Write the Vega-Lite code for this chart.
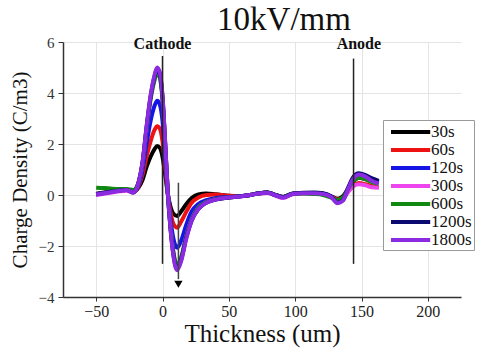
{
"$schema": "https://vega.github.io/schema/vega-lite/v6.json",
"width": 398, "height": 255,
"autosize": {"type": "none"},
"padding": {"left": 63, "top": 42, "right": 16, "bottom": 52},
"background": "white",
"config": {"view": {"stroke": null}, "font": "Liberation Serif"},
"title": {"text": "10kV/mm", "fontSize": 33, "font": "Liberation Serif", "fontWeight": "normal", "color": "#111", "anchor": "middle", "dx": 22, "offset": 0, "dy": 2},
"datasets": {
"curves": [
{"s":"30s","x":-50,"y":0.05},{"s":"30s","x":-44,"y":0.1},{"s":"30s","x":-38,"y":0.15},{"s":"30s","x":-32,"y":0.2},{"s":"30s","x":-27,"y":0.22},{"s":"30s","x":-22,"y":0.12},{"s":"30s","x":-18,"y":0.3},{"s":"30s","x":-15,"y":0.6},{"s":"30s","x":-12,"y":1.1},{"s":"30s","x":-9,"y":1.5},{"s":"30s","x":-6,"y":1.8},{"s":"30s","x":-4,"y":1.92},{"s":"30s","x":-2,"y":1.85},{"s":"30s","x":0,"y":1.5},{"s":"30s","x":2,"y":0.8},{"s":"30s","x":4,"y":0.05},{"s":"30s","x":6,"y":-0.45},{"s":"30s","x":8,"y":-0.72},{"s":"30s","x":11,"y":-0.82},{"s":"30s","x":14,"y":-0.65},{"s":"30s","x":18,"y":-0.35},{"s":"30s","x":22,"y":-0.12},{"s":"30s","x":27,"y":0.02},{"s":"30s","x":33,"y":0.06},{"s":"30s","x":40,"y":0.03},{"s":"30s","x":50,"y":-0.03},{"s":"30s","x":58,"y":-0.05},{"s":"30s","x":66,"y":0.0},{"s":"30s","x":73,"y":0.07},{"s":"30s","x":79,"y":0.1},{"s":"30s","x":85,"y":0.0},{"s":"30s","x":91,"y":-0.08},{"s":"30s","x":98,"y":0.05},{"s":"30s","x":106,"y":0.08},{"s":"30s","x":114,"y":0.08},{"s":"30s","x":121,"y":0.05},{"s":"30s","x":127,"y":-0.05},{"s":"30s","x":132,"y":-0.15},{"s":"30s","x":136,"y":-0.05},{"s":"30s","x":140,"y":0.25},{"s":"30s","x":144,"y":0.55},{"s":"30s","x":148,"y":0.68},{"s":"30s","x":153,"y":0.62},{"s":"30s","x":158,"y":0.55},{"s":"30s","x":163,"y":0.5},
{"s":"60s","x":-50,"y":0.03},{"s":"60s","x":-44,"y":0.08},{"s":"60s","x":-38,"y":0.14},{"s":"60s","x":-32,"y":0.18},{"s":"60s","x":-27,"y":0.2},{"s":"60s","x":-22,"y":0.12},{"s":"60s","x":-18,"y":0.35},{"s":"60s","x":-15,"y":0.8},{"s":"60s","x":-12,"y":1.5},{"s":"60s","x":-9,"y":2.1},{"s":"60s","x":-6,"y":2.55},{"s":"60s","x":-4,"y":2.7},{"s":"60s","x":-2,"y":2.6},{"s":"60s","x":0,"y":2.1},{"s":"60s","x":2,"y":1.1},{"s":"60s","x":4,"y":0.05},{"s":"60s","x":6,"y":-0.65},{"s":"60s","x":8,"y":-1.1},{"s":"60s","x":11,"y":-1.28},{"s":"60s","x":14,"y":-1.05},{"s":"60s","x":18,"y":-0.65},{"s":"60s","x":22,"y":-0.3},{"s":"60s","x":27,"y":-0.1},{"s":"60s","x":33,"y":0.0},{"s":"60s","x":40,"y":0.02},{"s":"60s","x":50,"y":-0.03},{"s":"60s","x":58,"y":-0.05},{"s":"60s","x":66,"y":0.0},{"s":"60s","x":73,"y":0.07},{"s":"60s","x":79,"y":0.1},{"s":"60s","x":85,"y":0.0},{"s":"60s","x":91,"y":-0.08},{"s":"60s","x":98,"y":0.05},{"s":"60s","x":106,"y":0.08},{"s":"60s","x":114,"y":0.08},{"s":"60s","x":121,"y":0.05},{"s":"60s","x":127,"y":-0.05},{"s":"60s","x":132,"y":-0.18},{"s":"60s","x":136,"y":-0.1},{"s":"60s","x":140,"y":0.15},{"s":"60s","x":144,"y":0.38},{"s":"60s","x":148,"y":0.47},{"s":"60s","x":153,"y":0.42},{"s":"60s","x":158,"y":0.35},{"s":"60s","x":163,"y":0.3},
{"s":"120s","x":-50,"y":0.03},{"s":"120s","x":-44,"y":0.08},{"s":"120s","x":-38,"y":0.14},{"s":"120s","x":-32,"y":0.18},{"s":"120s","x":-27,"y":0.2},{"s":"120s","x":-22,"y":0.12},{"s":"120s","x":-18,"y":0.4},{"s":"120s","x":-15,"y":1.0},{"s":"120s","x":-12,"y":2.0},{"s":"120s","x":-9,"y":2.9},{"s":"120s","x":-6,"y":3.5},{"s":"120s","x":-4,"y":3.7},{"s":"120s","x":-2,"y":3.55},{"s":"120s","x":0,"y":2.9},{"s":"120s","x":2,"y":1.5},{"s":"120s","x":4,"y":0.05},{"s":"120s","x":6,"y":-0.95},{"s":"120s","x":8,"y":-1.65},{"s":"120s","x":11,"y":-2.07},{"s":"120s","x":14,"y":-1.8},{"s":"120s","x":18,"y":-1.15},{"s":"120s","x":22,"y":-0.65},{"s":"120s","x":27,"y":-0.35},{"s":"120s","x":33,"y":-0.2},{"s":"120s","x":40,"y":-0.12},{"s":"120s","x":50,"y":-0.08},{"s":"120s","x":58,"y":-0.05},{"s":"120s","x":66,"y":0.0},{"s":"120s","x":73,"y":0.07},{"s":"120s","x":79,"y":0.1},{"s":"120s","x":85,"y":0.0},{"s":"120s","x":91,"y":-0.08},{"s":"120s","x":98,"y":0.05},{"s":"120s","x":106,"y":0.08},{"s":"120s","x":114,"y":0.08},{"s":"120s","x":121,"y":0.05},{"s":"120s","x":127,"y":-0.05},{"s":"120s","x":132,"y":-0.28},{"s":"120s","x":136,"y":-0.2},{"s":"120s","x":140,"y":0.25},{"s":"120s","x":144,"y":0.65},{"s":"120s","x":148,"y":0.78},{"s":"120s","x":153,"y":0.7},{"s":"120s","x":158,"y":0.58},{"s":"120s","x":163,"y":0.5},
{"s":"300s","x":-50,"y":0.0},{"s":"300s","x":-44,"y":0.05},{"s":"300s","x":-38,"y":0.1},{"s":"300s","x":-32,"y":0.15},{"s":"300s","x":-27,"y":0.17},{"s":"300s","x":-22,"y":0.1},{"s":"300s","x":-18,"y":0.48},{"s":"300s","x":-15,"y":1.25},{"s":"300s","x":-12,"y":2.6},{"s":"300s","x":-9,"y":3.8},{"s":"300s","x":-6,"y":4.55},{"s":"300s","x":-4,"y":4.85},{"s":"300s","x":-2,"y":4.65},{"s":"300s","x":0,"y":3.8},{"s":"300s","x":2,"y":2.0},{"s":"300s","x":4,"y":0.1},{"s":"300s","x":6,"y":-1.25},{"s":"300s","x":8,"y":-2.2},{"s":"300s","x":11,"y":-2.8},{"s":"300s","x":14,"y":-2.5},{"s":"300s","x":18,"y":-1.6},{"s":"300s","x":22,"y":-0.95},{"s":"300s","x":27,"y":-0.5},{"s":"300s","x":33,"y":-0.28},{"s":"300s","x":40,"y":-0.17},{"s":"300s","x":50,"y":-0.1},{"s":"300s","x":58,"y":-0.06},{"s":"300s","x":66,"y":0.0},{"s":"300s","x":73,"y":0.06},{"s":"300s","x":79,"y":0.08},{"s":"300s","x":85,"y":-0.02},{"s":"300s","x":91,"y":-0.12},{"s":"300s","x":98,"y":0.03},{"s":"300s","x":106,"y":0.06},{"s":"300s","x":114,"y":0.06},{"s":"300s","x":121,"y":0.03},{"s":"300s","x":127,"y":-0.08},{"s":"300s","x":132,"y":-0.25},{"s":"300s","x":136,"y":-0.15},{"s":"300s","x":140,"y":0.12},{"s":"300s","x":144,"y":0.35},{"s":"300s","x":148,"y":0.42},{"s":"300s","x":153,"y":0.38},{"s":"300s","x":158,"y":0.3},{"s":"300s","x":163,"y":0.28},
{"s":"600s","x":-50,"y":0.28},{"s":"600s","x":-44,"y":0.27},{"s":"600s","x":-38,"y":0.25},{"s":"600s","x":-32,"y":0.24},{"s":"600s","x":-27,"y":0.24},{"s":"600s","x":-22,"y":0.2},{"s":"600s","x":-18,"y":0.5},{"s":"600s","x":-15,"y":1.25},{"s":"600s","x":-12,"y":2.6},{"s":"600s","x":-9,"y":3.75},{"s":"600s","x":-6,"y":4.5},{"s":"600s","x":-4,"y":4.8},{"s":"600s","x":-2,"y":4.6},{"s":"600s","x":0,"y":3.75},{"s":"600s","x":2,"y":2.0},{"s":"600s","x":4,"y":0.1},{"s":"600s","x":6,"y":-1.2},{"s":"600s","x":8,"y":-2.15},{"s":"600s","x":11,"y":-2.75},{"s":"600s","x":14,"y":-2.45},{"s":"600s","x":18,"y":-1.6},{"s":"600s","x":22,"y":-0.95},{"s":"600s","x":27,"y":-0.5},{"s":"600s","x":33,"y":-0.28},{"s":"600s","x":40,"y":-0.16},{"s":"600s","x":50,"y":-0.1},{"s":"600s","x":58,"y":-0.05},{"s":"600s","x":66,"y":0.0},{"s":"600s","x":73,"y":0.07},{"s":"600s","x":79,"y":0.1},{"s":"600s","x":85,"y":0.0},{"s":"600s","x":91,"y":-0.08},{"s":"600s","x":98,"y":0.05},{"s":"600s","x":106,"y":0.06},{"s":"600s","x":114,"y":0.04},{"s":"600s","x":121,"y":0.0},{"s":"600s","x":127,"y":-0.1},{"s":"600s","x":132,"y":-0.2},{"s":"600s","x":136,"y":-0.1},{"s":"600s","x":140,"y":0.25},{"s":"600s","x":144,"y":0.55},{"s":"600s","x":148,"y":0.68},{"s":"600s","x":153,"y":0.62},{"s":"600s","x":158,"y":0.5},{"s":"600s","x":163,"y":0.45},
{"s":"1200s","x":-50,"y":0.03},{"s":"1200s","x":-44,"y":0.08},{"s":"1200s","x":-38,"y":0.14},{"s":"1200s","x":-32,"y":0.18},{"s":"1200s","x":-27,"y":0.2},{"s":"1200s","x":-22,"y":0.1},{"s":"1200s","x":-18,"y":0.5},{"s":"1200s","x":-15,"y":1.3},{"s":"1200s","x":-12,"y":2.65},{"s":"1200s","x":-9,"y":3.85},{"s":"1200s","x":-6,"y":4.65},{"s":"1200s","x":-4,"y":4.95},{"s":"1200s","x":-2,"y":4.75},{"s":"1200s","x":0,"y":3.85},{"s":"1200s","x":2,"y":2.05},{"s":"1200s","x":4,"y":0.1},{"s":"1200s","x":6,"y":-1.3},{"s":"1200s","x":8,"y":-2.25},{"s":"1200s","x":11,"y":-2.9},{"s":"1200s","x":14,"y":-2.55},{"s":"1200s","x":18,"y":-1.65},{"s":"1200s","x":22,"y":-1.0},{"s":"1200s","x":27,"y":-0.55},{"s":"1200s","x":33,"y":-0.3},{"s":"1200s","x":40,"y":-0.18},{"s":"1200s","x":50,"y":-0.1},{"s":"1200s","x":58,"y":-0.05},{"s":"1200s","x":66,"y":0.0},{"s":"1200s","x":73,"y":0.07},{"s":"1200s","x":79,"y":0.1},{"s":"1200s","x":85,"y":0.0},{"s":"1200s","x":91,"y":-0.08},{"s":"1200s","x":98,"y":0.05},{"s":"1200s","x":106,"y":0.09},{"s":"1200s","x":114,"y":0.1},{"s":"1200s","x":121,"y":0.07},{"s":"1200s","x":127,"y":-0.05},{"s":"1200s","x":132,"y":-0.3},{"s":"1200s","x":136,"y":-0.2},{"s":"1200s","x":140,"y":0.3},{"s":"1200s","x":144,"y":0.72},{"s":"1200s","x":148,"y":0.85},{"s":"1200s","x":153,"y":0.78},{"s":"1200s","x":158,"y":0.65},{"s":"1200s","x":163,"y":0.55},
{"s":"1800s","x":-50,"y":0.02},{"s":"1800s","x":-44,"y":0.07},{"s":"1800s","x":-38,"y":0.12},{"s":"1800s","x":-32,"y":0.17},{"s":"1800s","x":-27,"y":0.2},{"s":"1800s","x":-22,"y":0.1},{"s":"1800s","x":-18,"y":0.5},{"s":"1800s","x":-15,"y":1.3},{"s":"1800s","x":-12,"y":2.7},{"s":"1800s","x":-9,"y":3.9},{"s":"1800s","x":-6,"y":4.7},{"s":"1800s","x":-4,"y":5.0},{"s":"1800s","x":-2,"y":4.8},{"s":"1800s","x":0,"y":3.9},{"s":"1800s","x":2,"y":2.1},{"s":"1800s","x":4,"y":0.1},{"s":"1800s","x":6,"y":-1.3},{"s":"1800s","x":8,"y":-2.3},{"s":"1800s","x":11,"y":-2.95},{"s":"1800s","x":14,"y":-2.6},{"s":"1800s","x":18,"y":-1.7},{"s":"1800s","x":22,"y":-1.0},{"s":"1800s","x":27,"y":-0.55},{"s":"1800s","x":33,"y":-0.3},{"s":"1800s","x":40,"y":-0.18},{"s":"1800s","x":50,"y":-0.1},{"s":"1800s","x":58,"y":-0.06},{"s":"1800s","x":66,"y":0.0},{"s":"1800s","x":73,"y":0.06},{"s":"1800s","x":79,"y":0.09},{"s":"1800s","x":85,"y":-0.01},{"s":"1800s","x":91,"y":-0.1},{"s":"1800s","x":98,"y":0.04},{"s":"1800s","x":106,"y":0.07},{"s":"1800s","x":114,"y":0.07},{"s":"1800s","x":121,"y":0.04},{"s":"1800s","x":127,"y":-0.07},{"s":"1800s","x":132,"y":-0.32},{"s":"1800s","x":136,"y":-0.22},{"s":"1800s","x":140,"y":0.25},{"s":"1800s","x":144,"y":0.65},{"s":"1800s","x":148,"y":0.8},{"s":"1800s","x":153,"y":0.72},{"s":"1800s","x":158,"y":0.55},{"s":"1800s","x":163,"y":0.45}
],
"electrodes": [{"x":0,"y":5.45,"y2":-2.7},{"x":144,"y":5.35,"y2":-2.7}],
"arrow": [{"x":12,"y":0.48,"y2":-3.3}],
"arrowhead": [{"x":12,"y":-3.5}],
"labels": [{"x":0,"y":6,"t":"Cathode"},{"x":148,"y":6,"t":"Anode"}]
},
"layer": [
{
"data": {"name": "curves"},
"mark": {"type": "line", "interpolate": "monotone", "strokeWidth": 4},
"encoding": {
"x": {"field": "x", "type": "quantitative",
"scale": {"domain": [-75, 225], "nice": false, "zero": false},
"axis": {"title": "Thickness (um)", "values": [-50,-25,0,25,50,75,100,125,150,175,200],
"labelExpr": "datum.value % 50 === 0 ? datum.label : ''",
"labelFont": "Liberation Serif", "labelFontSize": 16, "labelColor": "#222", "labelPadding": 2,
"tickSize": 4, "tickColor": "#333", "domainColor": "#333", "domainWidth": 1.5,
"titleFont": "Liberation Serif", "titleFontSize": 25, "titleFontWeight": "normal", "titleColor": "#111", "titlePadding": 2,
"gridColor": "#e4e4e4"}},
"y": {"field": "y", "type": "quantitative",
"scale": {"domain": [-4, 6], "nice": false, "zero": false},
"axis": {"title": "Charge Density (C/m3)", "values": [-4,-3,-2,-1,0,1,2,3,4,5,6],
"labelExpr": "datum.value % 2 === 0 ? datum.label : ''",
"labelFont": "Liberation Serif", "labelFontSize": 15, "labelColor": "#333", "labelPadding": 4,
"tickSize": 5, "tickColor": "#333", "domainColor": "#333", "domainWidth": 1.5,
"titleFont": "Liberation Serif", "titleFontSize": 21, "titleFontWeight": "normal", "titleColor": "#111", "titlePadding": 8,
"gridColor": "#e4e4e4"}},
"color": {"field": "s", "type": "nominal",
"sort": ["30s","60s","120s","300s","600s","1200s","1800s"],
"scale": {"domain": ["30s","60s","120s","300s","600s","1200s","1800s"],
"range": ["#000000","#ee1111","#1515e6","#ee44ee","#118811","#0a0a70","#8a2be2"]},
"legend": {"title": null, "orient": "none", "legendX": 320, "legendY": 78,
"fillColor": "white", "strokeColor": "#999", "padding": 2,
"symbolType": "M-0.5,0H4.4", "symbolSize": 256, "symbolStrokeWidth": 4,
"labelFont": "Liberation Serif", "labelFontSize": 17, "labelColor": "#111", "labelOffset": 26, "rowPadding": 0}}
}
},
{
"data": {"name": "electrodes"},
"mark": {"type": "rule", "color": "#222", "strokeWidth": 1.5},
"encoding": {"x": {"field": "x", "type": "quantitative"}, "y": {"field": "y", "type": "quantitative"}, "y2": {"field": "y2"}}
},
{
"data": {"name": "arrow"},
"mark": {"type": "rule", "color": "#444", "strokeWidth": 1.5},
"encoding": {"x": {"field": "x", "type": "quantitative"}, "y": {"field": "y", "type": "quantitative"}, "y2": {"field": "y2"}}
},
{
"data": {"name": "arrowhead"},
"mark": {"type": "point", "shape": "triangle-down", "filled": true, "color": "#000", "size": 70, "opacity": 1},
"encoding": {"x": {"field": "x", "type": "quantitative"}, "y": {"field": "y", "type": "quantitative"}}
},
{
"data": {"name": "labels"},
"mark": {"type": "text", "font": "Liberation Serif", "fontWeight": "bold", "fontSize": 16, "baseline": "middle", "dy": 2, "color": "#111"},
"encoding": {"x": {"field": "x", "type": "quantitative"}, "y": {"field": "y", "type": "quantitative"}, "text": {"field": "t"}}
}
]
}
